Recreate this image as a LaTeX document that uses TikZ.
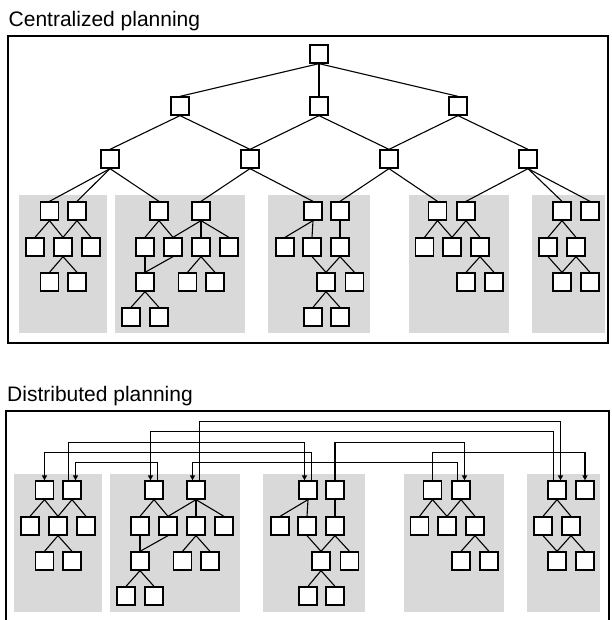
\documentclass[tikz,border=0pt]{standalone}
\usepackage{fontspec}
\setmainfont{Liberation Sans}
\usetikzlibrary{arrows.meta}

\tikzset{
  task/.style={draw, fill=white, minimum size=18pt, inner sep=0pt, line width=1.3pt},
  tie/.style={line width=1.1pt},
  panel/.style={fill=black!15},
  frame/.style={line width=1.5pt},
  link/.style={->, line width=1.2pt},
  title/.style={anchor=base west, inner sep=0pt, font=\fontsize{21}{25}\selectfont}
}

% the five groups of sub-plans (used in both halves)
\newcommand\subplans{%
  \fill[panel] (19,195) rectangle (107,333);
  \fill[panel] (115,195) rectangle (245,333);
  \fill[panel] (268,195) rectangle (370,333);
  \fill[panel] (409,195) rectangle (509,333);
  \fill[panel] (532,195) rectangle (605,333);
  \foreach \n/\x/\y in {A1/49.5/211, A2/77/211, A3/35/247, A4/63/247, A5/91/247, A6/49.5/282, A7/77/282,
      B1/159/211, B2/201/211, B3/145/247, B4/173/247, B5/201/247, B6/229/247, B7/145/282, B8/187.5/282,
      B9/215/282, B10/131/317, B11/159/317,
      C1/313/211, C2/340/211, C3/285/247, C4/312/247, C5/340/247, C6/326/282, C7/354.5/282, C8/313/317, C9/340/317,
      D1/437.5/211, D2/466/211, D3/424.5/247, D4/452/247, D5/480/247, D6/466/282, D7/494/282,
      E1/562/211, E2/590/211, E3/548/247, E4/576/247, E5/562/282, E6/590/282}
    \node[task] (\n) at (\x,\y) {};
  \foreach \u/\v in {A1/A3, A1/A4, A2/A4, A2/A5, A4/A6, A4/A7,
      B1/B3, B1/B4, B2/B4, B2/B5, B2/B6, B3/B7, B4/B7, B5/B8, B5/B9, B7/B10, B7/B11,
      C1/C3, C1/C4, C2/C5, C4/C6, C5/C6, C5/C7, C6/C8, C6/C9,
      D1/D3, D1/D4, D2/D4, D2/D5, D5/D6, D5/D7,
      E1/E3, E1/E4, E3/E5, E4/E5, E4/E6}
    \draw[tie] (\u.south) -- (\v.north);
}

\begin{document}
\begin{tikzpicture}[x=1pt, y=-1pt, >={Triangle[length=5pt,width=5pt]}]
\useasboundingbox (0,0) rectangle (611,620);

% centralized planning
\node[title] (ctitle) at (8.5,26.5) {Centralized planning};
\draw[frame] (8,36) rectangle (608,343);
\begin{scope}[name prefix=c-]
\subplans
\end{scope}

\node[task] (top) at (319,54) {};
\node[task] (m1) at (180,106) {};
\node[task] (m2) at (319,106) {};
\node[task] (m3) at (458,106) {};
\node[task] (l1) at (110,159) {};
\node[task] (l2) at (250,159) {};
\node[task] (l3) at (389,159) {};
\node[task] (l4) at (528,159) {};

\foreach \u/\v in {top/m1, top/m2, top/m3, m1/l1, m1/l2, m2/l2, m2/l3, m3/l3, m3/l4,
    l1/c-A1, l1/c-A2, l1/c-B1, l2/c-B2, l2/c-C1, l3/c-C2, l3/c-D1, l4/c-D2, l4/c-E1, l4/c-E2}
  \draw[tie] (\u.south) -- (\v.north);

% distributed planning
\node[title] (dtitle) at (7,401.5) {Distributed planning};
\draw[frame] (6,620) |- (609,411) -- (609,620);
\begin{scope}[shift={(-5,279)}, name prefix=d-]
\subplans
\end{scope}

% links between the sub-plans
\draw[link] ([xshift=3.5pt]d-B2.north) -- ++(0,-59) -| ([xshift=3.5pt]d-E1.north);
\draw[link] ([xshift=-3.5pt]d-E1.north) -- ++(0,-49) -| ([xshift=-3.5pt]d-B1.north);
\draw[link] ([xshift=-3.5pt]d-A2.north) -- ++(0,-38) -| ([xshift=-3.5pt]d-C1.north);
\draw[link] (d-C2.north) -- ++(0,-38) -| ([xshift=3.5pt]d-D2.north);
\draw[link] ([xshift=3.5pt]d-C1.north) -- ++(0,-28) -| (d-A1.north);
\draw[link] (d-D1.north) -- ++(0,-28) -| (d-E2.north);
\draw[link] ([xshift=3.5pt]d-B1.north) -- ++(0,-18) -| ([xshift=3.5pt]d-A2.north);
\draw[link] ([xshift=-3.5pt]d-D2.north) -- ++(0,-18) -| ([xshift=-3.5pt]d-B2.north);
\end{tikzpicture}
\end{document}
